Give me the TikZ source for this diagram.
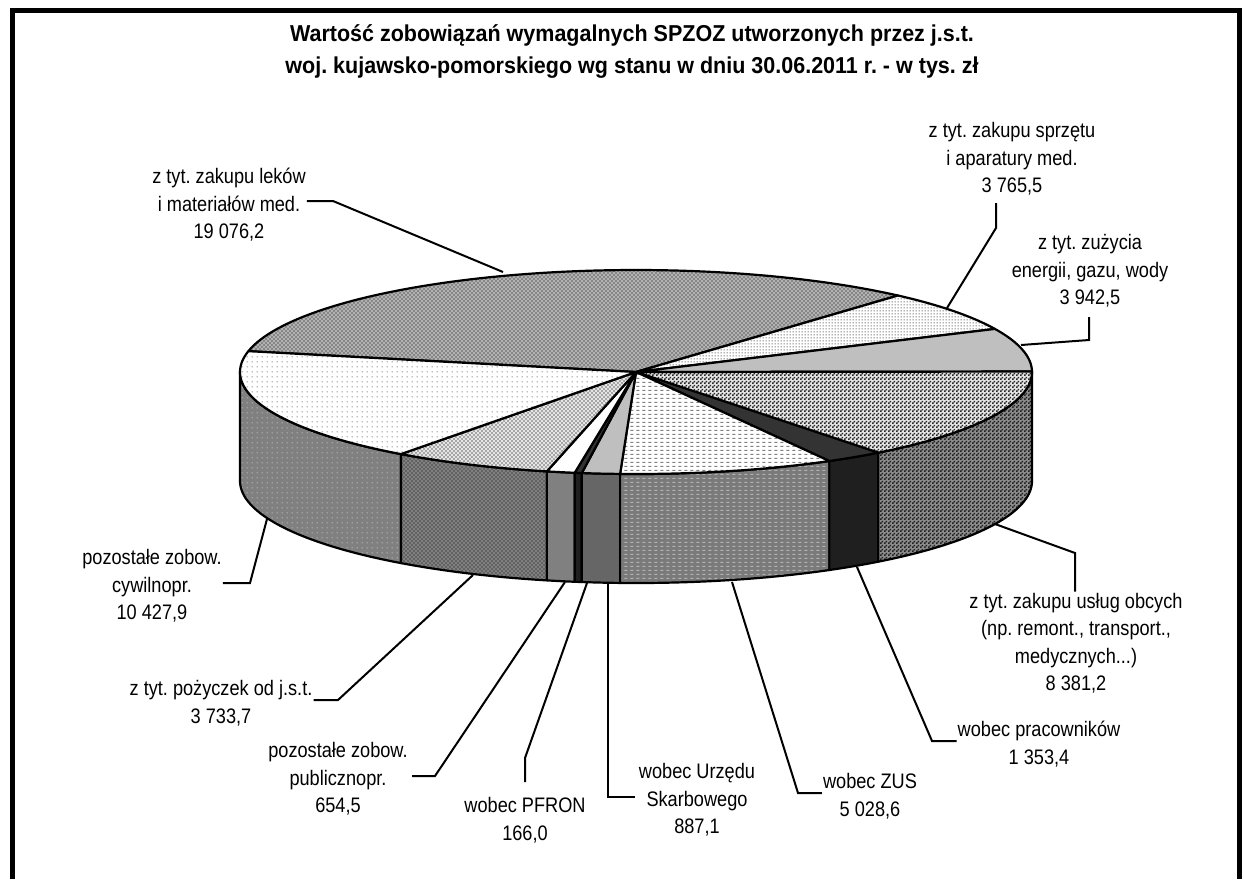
\documentclass[tikz,border=0pt]{standalone}
\usepackage{fontspec}
\setmainfont{Liberation Sans}
\newfontfamily\lblfont[FakeStretch=0.865]{Liberation Sans}
\newfontfamily\ttlfont[FakeStretch=0.935]{Liberation Sans}
\frenchspacing
\usetikzlibrary{patterns}
\pgfdeclarepatternformonly{pmesh}{\pgfqpoint{-0.5pt}{-0.5pt}}{\pgfqpoint{4.5pt}{4.5pt}}{\pgfqpoint{4pt}{4pt}}{%
  \pgfsetlinewidth{0.8pt}%
  \pgfpathmoveto{\pgfqpoint{0pt}{0pt}}\pgfpathlineto{\pgfqpoint{4pt}{4pt}}%
  \pgfpathmoveto{\pgfqpoint{0pt}{4pt}}\pgfpathlineto{\pgfqpoint{4pt}{0pt}}%
  \pgfusepath{stroke}}
\pgfdeclarepatternformonly{pdotS}{\pgfqpoint{0pt}{0pt}}{\pgfqpoint{5pt}{5pt}}{\pgfqpoint{5pt}{5pt}}{%
  \pgfpathcircle{\pgfqpoint{2.5pt}{2.5pt}}{0.8pt}\pgfusepath{fill}}
\pgfdeclarepatternformonly{pdotD}{\pgfqpoint{0pt}{0pt}}{\pgfqpoint{3pt}{3pt}}{\pgfqpoint{3pt}{3pt}}{%
  \pgfpathcircle{\pgfqpoint{1.5pt}{1.5pt}}{0.8pt}\pgfusepath{fill}}
\pgfdeclarepatternformonly{pchk}{\pgfqpoint{0pt}{0pt}}{\pgfqpoint{4pt}{4pt}}{\pgfqpoint{4pt}{4pt}}{%
  \pgfpathrectangle{\pgfqpoint{0pt}{0pt}}{\pgfqpoint{2pt}{2pt}}%
  \pgfpathrectangle{\pgfqpoint{2pt}{2pt}}{\pgfqpoint{2pt}{2pt}}\pgfusepath{fill}}
\pgfdeclarepatternformonly{pdash}{\pgfqpoint{0pt}{0pt}}{\pgfqpoint{6pt}{4pt}}{\pgfqpoint{6pt}{4pt}}{%
  \pgfpathrectangle{\pgfqpoint{0.5pt}{1.5pt}}{\pgfqpoint{3.5pt}{1.2pt}}\pgfusepath{fill}}
\def\pcx{636}\def\pcy{372}\def\prx{396}\def\pry{102}\def\phh{109}
\newcommand{\wedgeTop}[3]{\path[#1] (\pcx,\pcy) -- plot[domain=#2:#3,samples=90,variable=\vv] ({\pcx+\prx*cos(\vv)},{\pcy-\pry*sin(\vv)}) -- cycle;}
\newcommand{\wedgeSide}[3]{\path[#1] plot[domain=#2:#3,samples=60,variable=\vv] ({\pcx+\prx*cos(\vv)},{\pcy-\pry*sin(\vv)}) -- plot[domain=#3:#2,samples=60,variable=\vv] ({\pcx+\prx*cos(\vv)},{\pcy+\phh-\pry*sin(\vv)}) -- cycle;}
\begin{document}
\begin{tikzpicture}[x=1pt,y=-1pt,
  edge/.style={draw=black,line width=2.2pt,line join=round},
  lead/.style={draw=black,line width=2pt,line join=miter},
  lbl/.style={font=\fontsize{21}{27.5}\selectfont\lblfont, align=center, inner sep=1pt},
  ttl/.style={font=\fontsize{23}{32}\selectfont\ttlfont\bfseries, align=center, inner sep=1pt},
  tLek/.style={preaction={fill=black!52}, pattern=pmesh, pattern color=black!30, edge},
  tSpr/.style={preaction={fill=white}, pattern=pdotD, pattern color=black!80, edge},
  tEne/.style={fill=black!25, edge},
  tUsl/.style={preaction={fill=black!10}, pattern=pchk, pattern color=black!85, edge},
  tPra/.style={fill=black!80, edge},
  tZus/.style={preaction={fill=white}, pattern=pdash, pattern color=black!50, edge},
  tUrz/.style={fill=black!25, edge},
  tPfr/.style={fill=black!80, edge},
  tPub/.style={fill=white, edge},
  tPoz/.style={preaction={fill=black!42}, pattern=pmesh, pattern color=black!10, edge},
  tCyw/.style={preaction={fill=white}, pattern=pdotS, pattern color=black!50, edge},
  sCyw/.style={preaction={fill=black!50}, pattern=pdotS, pattern color=black!25, edge},
  sPoz/.style={preaction={fill=black!65}, pattern=pmesh, pattern color=black!50, edge},
  sPub/.style={fill=black!50, edge},
  sPfr/.style={fill=black!88, edge},
  sUrz/.style={fill=black!60, edge},
  sZus/.style={preaction={fill=black!52}, pattern=pdash, pattern color=black!30, edge},
  sPra/.style={fill=black!88, edge},
  sUsl/.style={preaction={fill=black!45}, pattern=pchk, pattern color=black!88, edge}]
\useasboundingbox (0,0) rectangle (1244,879);
\fill[white] (0,0) rectangle (1244,879);
% frame
\draw[line width=5pt] (12.5,879) -- (12.5,10.5) -- (1239.5,10.5) -- (1239.5,879);
% title
\node[ttl] (title) at (632,51) {Wartość zobowiązań wymagalnych SPZOZ utworzonych przez j.s.t.\\woj. kujawsko-pomorskiego wg stanu w dniu 30.06.2011 r. - w tys. zł};
% side faces
\wedgeSide{sCyw}{-180}{-126.418}
\wedgeSide{sPoz}{-126.418}{-103.008}
\wedgeSide{sPub}{-103.008}{-98.904}
\wedgeSide{sPfr}{-98.904}{-97.863}
\wedgeSide{sUrz}{-97.863}{-92.301}
\wedgeSide{sZus}{-92.301}{-60.772}
\wedgeSide{sPra}{-60.772}{-52.286}
\wedgeSide{sUsl}{-52.286}{0}
% top faces
\wedgeTop{tLek}{48.592}{168.2}
\wedgeTop{tSpr}{24.983}{48.592}
\wedgeTop{tEne}{0.264}{24.983}
\wedgeTop{tUsl}{-52.286}{0.264}
\wedgeTop{tPra}{-60.772}{-52.286}
\wedgeTop{tZus}{-92.301}{-60.772}
\wedgeTop{tUrz}{-97.863}{-92.301}
\wedgeTop{tPfr}{-98.904}{-97.863}
\wedgeTop{tPub}{-103.008}{-98.904}
\wedgeTop{tPoz}{-126.418}{-103.008}
\wedgeTop{tCyw}{-191.801}{-126.418}
% labels
\node[lbl] (lek) at (229,205) {z tyt. zakupu leków\\i materiałów med.\\19 076,2};
\node[lbl] (spr) at (1012,159) {z tyt. zakupu sprzętu\\i aparatury med.\\3 765,5};
\node[lbl] (ene) at (1090,271) {z tyt. zużycia\\energii, gazu, wody\\3 942,5};
\node[lbl] (usl) at (1076,643) {z tyt. zakupu usług obcych\\(np. remont., transport.,\\medycznych...)\\8 381,2};
\node[lbl] (pra) at (1039,744) {wobec pracowników\\1 353,4};
\node[lbl] (zus) at (870,796) {wobec ZUS\\5 028,6};
\node[lbl] (urz) at (697,800) {wobec Urzędu\\Skarbowego\\887,1};
\node[lbl] (pfr) at (525,820) {wobec PFRON\\166,0};
\node[lbl] (pub) at (338,779) {pozostałe zobow.\\publicznopr.\\654,5};
\node[lbl] (poz) at (221,703) {z tyt. pożyczek od j.s.t.\\3 733,7};
\node[lbl] (cyw) at (152,586) {pozostałe zobow.\\cywilnopr.\\10 427,9};
% leader end points on the pie
\coordinate (e1) at (503,272);
\coordinate (e2) at (947,308);
\coordinate (e3) at (1021,345);
\coordinate (e4) at (995,524);
\coordinate (e5) at (857,567);
\coordinate (e6) at (732,582);
\coordinate (e7) at (608,583);
\coordinate (e8) at (587,583);
\coordinate (e9) at (565,582);
\coordinate (e10) at (473,575);
\coordinate (e11) at (267,519);
% leaders
\draw[lead] (lek.east |- 0,201) -- (333,201) -- (e1);
\draw[lead] (996,203) -- (996,228) -- (e2);
\draw[lead] (1089,317) -- (1089,340) -- (e3);
\draw[lead] (usl.north -| 1075,0) -- (1075,553) -- (e4);
\draw[lead] (pra.west |- 0,741) -- (932,741) -- (e5);
\draw[lead] (zus.west |- 0,793) -- (798,793) -- (e6);
\draw[lead] (635,797) -- (608,797) -- (e7);
\draw[lead] (525,782) -- (525,758) -- (e8);
\draw[lead] (412,776) -- (435,776) -- (e9);
\draw[lead] (poz.east |- 0,700) -- (338,700) -- (e10);
\draw[lead] (cyw.east |- 0,583) -- (250,583) -- (e11);
\end{tikzpicture}
\end{document}
